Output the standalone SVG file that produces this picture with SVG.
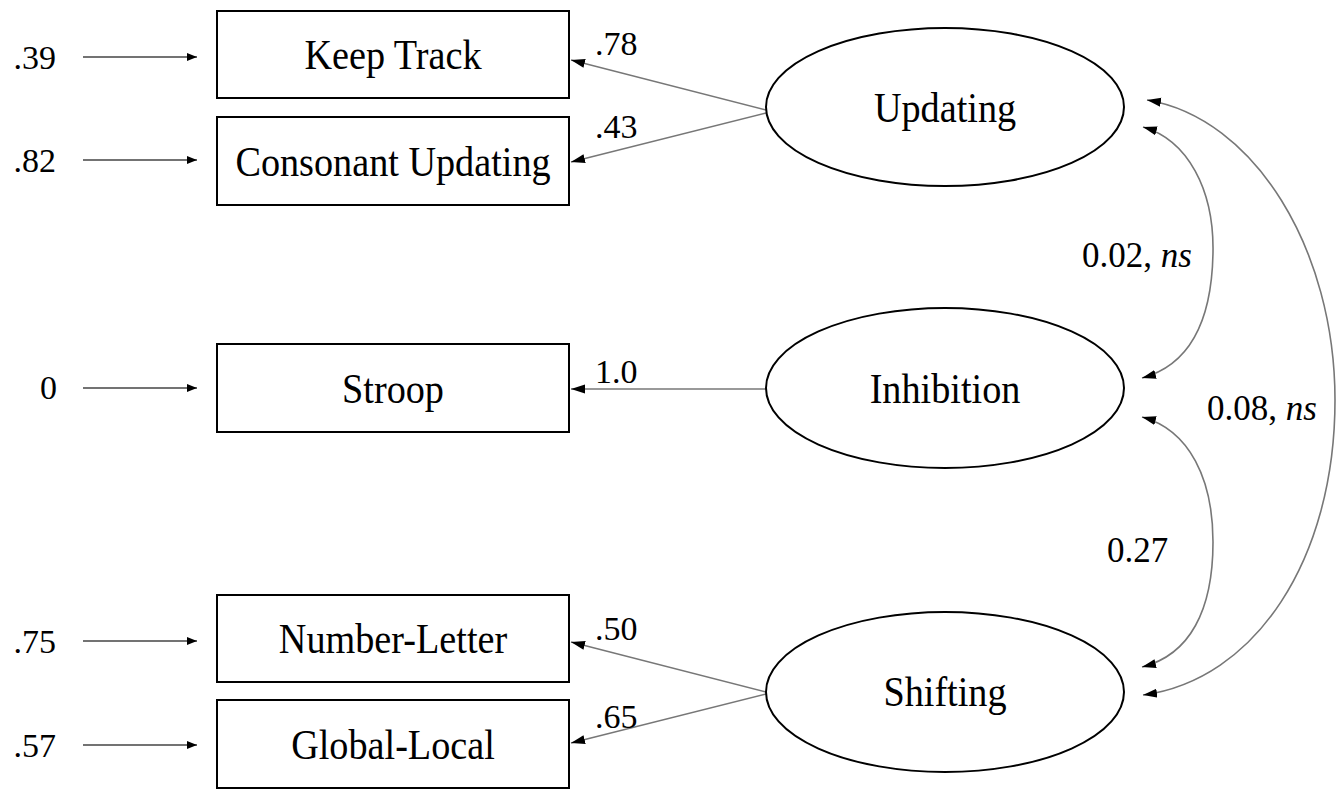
<svg xmlns="http://www.w3.org/2000/svg" width="1344" height="789" viewBox="0 0 1344 789">
<style>
text{font-family:"Liberation Serif","Times New Roman",serif;fill:#000}
.lbl{font-size:42px;text-anchor:middle}
.num{font-size:34px}
.cov{font-size:35px}
.box{fill:#fff;stroke:#000;stroke-width:2}
.ell{fill:#fff;stroke:#000;stroke-width:2}
.ln{fill:none;stroke:#777;stroke-width:1.6}
.err{fill:none;stroke:#444;stroke-width:1.6}
</style>
<defs>
<marker id="ah" viewBox="0 0 14 10" refX="14" refY="5" markerWidth="14" markerHeight="10" markerUnits="userSpaceOnUse" orient="auto-start-reverse">
<path d="M0,0.5 L14,5 L0,9.5 Z" fill="#000"/>
</marker>
<marker id="as" viewBox="0 0 10 10" refX="10" refY="5" markerWidth="10" markerHeight="10" markerUnits="userSpaceOnUse" orient="auto-start-reverse">
<path d="M0,1 L10,5 L0,9 Z" fill="#000"/>
</marker>
</defs>
<rect width="1344" height="789" fill="#fff"/>
<g id="connectors">
<line class="err" x1="83" y1="57" x2="197" y2="57" marker-end="url(#as)"/>
<line class="err" x1="83" y1="160" x2="197" y2="160" marker-end="url(#as)"/>
<line class="err" x1="83" y1="388" x2="197" y2="388" marker-end="url(#as)"/>
<line class="err" x1="83" y1="641" x2="197" y2="641" marker-end="url(#as)"/>
<line class="err" x1="83" y1="745" x2="197" y2="745" marker-end="url(#as)"/>
<line class="ln" x1="766" y1="110" x2="571" y2="60" marker-end="url(#ah)"/>
<line class="ln" x1="766" y1="113" x2="571" y2="162" marker-end="url(#ah)"/>
<line class="ln" x1="766" y1="389" x2="571" y2="389" marker-end="url(#ah)"/>
<line class="ln" x1="766" y1="692" x2="571" y2="642" marker-end="url(#ah)"/>
<line class="ln" x1="766" y1="694" x2="571" y2="743" marker-end="url(#ah)"/>
<path class="ln" d="M1143,127 C1188,140 1214,190 1213,252 C1212,320 1190,365 1142,378" marker-start="url(#ah)" marker-end="url(#ah)"/>
<path class="ln" d="M1142,417 C1190,430 1213,480 1213,542 C1213,610 1190,655 1142,667" marker-start="url(#ah)" marker-end="url(#ah)"/>
<path class="ln" d="M1147,100 C1255,118 1335,250 1335,400 C1335,560 1255,680 1143,695" marker-start="url(#ah)" marker-end="url(#ah)"/>
<text class="num" x="595" y="55">.78</text>
<text class="num" x="595" y="138">.43</text>
<text class="num" x="595" y="383">1.0</text>
<text class="num" x="595" y="640">.50</text>
<text class="num" x="595" y="728">.65</text>
<text class="cov" x="1082" y="267">0.02, <tspan font-style="italic">ns</tspan></text>
<text class="cov" x="1207" y="420">0.08, <tspan font-style="italic">ns</tspan></text>
<text class="cov" x="1107" y="562">0.27</text>
<text class="num" x="56" y="69" text-anchor="end">.39</text>
<text class="num" x="56" y="172" text-anchor="end">.82</text>
<text class="num" x="57" y="399" text-anchor="end" font-size="36">0</text>
<text class="num" x="56" y="653" text-anchor="end">.75</text>
<text class="num" x="56" y="757" text-anchor="end">.57</text>
</g>
<g id="keep-track"><rect class="box" x="217" y="11" width="352" height="87"/><text class="lbl" transform="translate(393,69) scale(0.91,1)">Keep Track</text></g>
<g id="consonant-updating"><rect class="box" x="217" y="117" width="352" height="88"/><text class="lbl" transform="translate(393,176) scale(0.91,1)">Consonant Updating</text></g>
<g id="stroop"><rect class="box" x="217" y="344" width="352" height="88"/><text class="lbl" transform="translate(393,403) scale(0.91,1)">Stroop</text></g>
<g id="number-letter"><rect class="box" x="217" y="595" width="352" height="87"/><text class="lbl" transform="translate(393,653) scale(0.91,1)">Number-Letter</text></g>
<g id="global-local"><rect class="box" x="217" y="700" width="352" height="88"/><text class="lbl" transform="translate(393,759) scale(0.91,1)">Global-Local</text></g>
<g id="updating"><ellipse class="ell" cx="945" cy="107" rx="179" ry="79"/><text class="lbl" transform="translate(945,122) scale(0.91,1)">Updating</text></g>
<g id="inhibition"><ellipse class="ell" cx="945" cy="388" rx="179" ry="80"/><text class="lbl" transform="translate(945,403) scale(0.91,1)">Inhibition</text></g>
<g id="shifting"><ellipse class="ell" cx="945" cy="692" rx="179" ry="80"/><text class="lbl" transform="translate(945,706) scale(0.91,1)">Shifting</text></g>
</svg>
